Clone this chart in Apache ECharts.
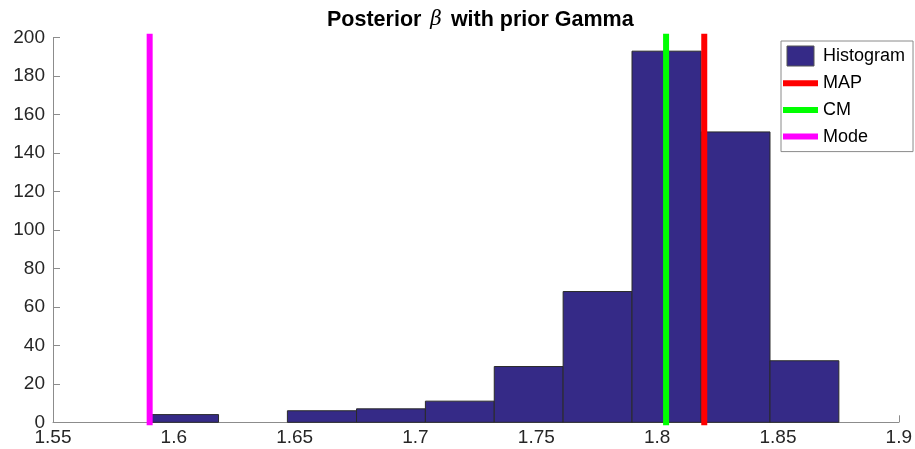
<!DOCTYPE html>
<html>
<head>
<meta charset="utf-8">
<script src="https://cdn.jsdelivr.net/npm/echarts@6/dist/echarts.min.js"></script>
<style>
html,body{margin:0;padding:0;background:#fff;}
#chart{width:915px;height:449px;}
</style>
</head>
<body>
<div id="chart"></div>
<script>
// Histogram bin edges (x values) and counts
const binEdges = [1.5900, 1.6185, 1.6470, 1.6756, 1.7041, 1.7326, 1.7611, 1.7896, 1.8182, 1.8467, 1.8752];
const counts = [4, 0, 6, 7, 11, 29, 68, 193, 151, 32];
// Vertical marker positions
const mapValue = 1.8195;
const cmValue = 1.8037;
const modeValue = 1.5900;
const lineSpan = [-1.5, 202];
// Axis ticks
const xTicks = [1.55, 1.6, 1.65, 1.7, 1.75, 1.8, 1.85, 1.9];
const yTicks = [0, 20, 40, 60, 80, 100, 120, 140, 160, 180, 200];

const FONT = "'Liberation Sans', Arial, Helvetica, sans-serif";
const histData = counts.map((c, i) => [binEdges[i], binEdges[i + 1], c]);
const vline = v => lineSpan.map(y => [v, y]);
const LINE_ICON = 'path://M0,0h35v6h-35z';

const chart = echarts.init(document.getElementById('chart'), null, {renderer: 'canvas'});
chart.setOption({
  animation: false,
  backgroundColor: '#fff',
  title: {
    text: '{b|Posterior }{g|β}{b| with prior Gamma}',
    left: 322,
    top: 4,
    textStyle: {
      rich: {
        b: {fontFamily: FONT, fontWeight: 'bold', fontSize: 21.5, color: '#000'},
        g: {fontFamily: "'DejaVu Serif', serif", fontStyle: 'italic', fontWeight: 'normal', fontSize: 20, color: '#000', padding: [0, 3, 0, 3]}
      }
    }
  },
  grid: {left: 53, right: 14, top: 37.7, bottom: 26.7, containLabel: false},
  legend: {
    orient: 'vertical',
    left: 781,
    top: 41,
    padding: [4.5, 8, 5, 2],
    itemWidth: 35,
    itemHeight: 20,
    itemGap: 6.7,
    itemTextGap: 4,
    borderColor: '#8a8a8a',
    borderWidth: 1,
    backgroundColor: '#fff',
    textStyle: {fontFamily: FONT, fontSize: 18, color: '#000', lineHeight: 20},
    data: [
      {name: 'Histogram', icon: 'path://M0,0h27v20h-27z', itemStyle: {color: '#352A87', borderColor: '#555', borderWidth: 1}},
      {name: 'MAP', icon: LINE_ICON, itemStyle: {color: '#ff0000'}},
      {name: 'CM', icon: LINE_ICON, itemStyle: {color: '#00ff00'}},
      {name: 'Mode', icon: LINE_ICON, itemStyle: {color: '#ff00ff'}}
    ]
  },
  xAxis: {
    type: 'value',
    min: xTicks[0],
    max: xTicks[xTicks.length - 1],
    interval: 0.05,
    axisLine: {show: true, lineStyle: {color: '#8c8c8c', width: 1}},
    axisTick: {show: true, inside: true, length: 7, lineStyle: {color: '#8c8c8c'}},
    splitLine: {show: false},
    axisLabel: {
      fontFamily: FONT, fontSize: 19, color: '#262626', margin: 6,
      formatter: v => String(parseFloat(v.toFixed(2)))
    }
  },
  yAxis: {
    type: 'value',
    min: yTicks[0],
    max: yTicks[yTicks.length - 1],
    interval: 20,
    axisLine: {show: true, lineStyle: {color: '#8c8c8c', width: 1}},
    axisTick: {show: true, inside: true, length: 7, lineStyle: {color: '#8c8c8c'}},
    splitLine: {show: false},
    axisLabel: {fontFamily: FONT, fontSize: 19, color: '#262626', margin: 8}
  },
  series: [
    {
      name: 'Histogram',
      type: 'custom',
      data: histData,
      encode: {x: [0, 1], y: 2},
      itemStyle: {color: '#352A87'},
      renderItem: (params, api) => {
        if (api.value(2) <= 0) return null;
        const s = api.coord([api.value(0), api.value(2)]);
        const e = api.coord([api.value(1), 0]);
        return {
          type: 'rect',
          shape: {x: s[0], y: s[1], width: e[0] - s[0], height: e[1] - s[1]},
          style: {fill: '#352A87', stroke: '#2a2a2a', lineWidth: 1}
        };
      },
      z: 2
    },
    {name: 'MAP', type: 'line', data: vline(mapValue), symbol: 'none', clip: false,
     lineStyle: {color: '#ff0000', width: 6}, itemStyle: {color: '#ff0000'}, z: 3},
    {name: 'CM', type: 'line', data: vline(cmValue), symbol: 'none', clip: false,
     lineStyle: {color: '#00ff00', width: 6}, itemStyle: {color: '#00ff00'}, z: 3},
    {name: 'Mode', type: 'line', data: vline(modeValue), symbol: 'none', clip: false,
     lineStyle: {color: '#ff00ff', width: 6}, itemStyle: {color: '#ff00ff'}, z: 3}
  ]
});
</script>
</body>
</html>
